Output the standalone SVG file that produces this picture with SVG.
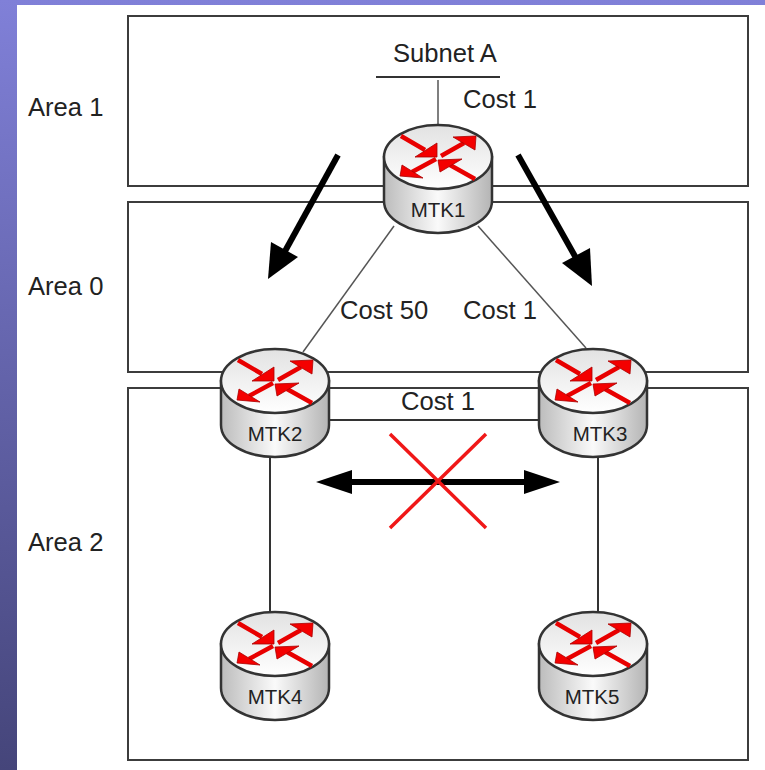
<svg xmlns="http://www.w3.org/2000/svg" xmlns:xlink="http://www.w3.org/1999/xlink" width="765" height="770" viewBox="0 0 765 770">
<style>
text{font-family:"Liberation Sans",Arial,sans-serif;fill:#222}
.lbl{font-size:25.6px}
.rl{font-size:20.5px;text-anchor:middle}
.area{fill:none;stroke:#3c3c3c;stroke-width:2}
.thin{stroke:#555;stroke-width:1.5;fill:none}
.dk{stroke:#333;stroke-width:2;fill:none}
.big{stroke:#000;stroke-width:6;fill:none}
.x{stroke:#f01818;stroke-width:3.5;fill:none}
.rs{stroke:#e80000;stroke-width:4.5;fill:none}
.rh{fill:#f40000;stroke:#a00;stroke-width:.8}
.bh{fill:#000}
</style>
<defs>
<linearGradient id="bg" x1="0" y1="0" x2="0" y2="1"><stop offset="0" stop-color="#8080d8"/><stop offset="1" stop-color="#45457a"/></linearGradient>
<linearGradient id="side" x1="0" y1="0" x2="1" y2="0"><stop offset="0" stop-color="#bcbcbc"/><stop offset="0.5" stop-color="#fafafa"/><stop offset="1" stop-color="#b4b4b4"/></linearGradient>
<linearGradient id="top" x1="0" y1="0" x2="0" y2="1"><stop offset="0" stop-color="#e2e2e2"/><stop offset="1" stop-color="#ffffff"/></linearGradient>
<g id="router">
<path d="M-54 0V44A54 32 0 0 0 54 44V0Z" fill="url(#side)" stroke="#333" stroke-width="2.5"/>
<ellipse cx="0" cy="0" rx="54" ry="32" fill="url(#top)" stroke="#333" stroke-width="2.5"/>
<path class="rs" d="M-37 -21L-13 -7M3 -1L26 -14M-2 2L-26 15M37 22L12 8"/>
<path class="rh" d="M-1 -14L-1 0L-23 0Z"/>
<path class="rh" d="M38 -21L37 -7L15 -20Z"/>
<path class="rh" d="M-38 19L-36 8L-15 21Z"/>
<path class="rh" d="M0 3L24 2L2 15Z"/>
</g>
</defs>
<rect width="765" height="770" fill="url(#bg)"/>
<rect x="17" y="5" width="748" height="765" fill="#fff"/>
<g id="areas">
<rect class="area" x="128" y="16" width="620" height="170"/>
<rect class="area" x="128" y="202" width="620" height="170"/>
<rect class="area" x="128" y="388" width="620" height="372"/>
</g>
<g id="connectors">
<path class="dk" d="M376 77H500"/>
<path class="thin" d="M438 80V126"/>
<path class="thin" d="M394 226L303 352"/>
<path class="thin" d="M478 226L586 348"/>
<path class="dk" d="M330 420H540"/>
<path class="dk" d="M270 456V612"/>
<path class="dk" d="M598 456V612"/>
<path class="big" d="M338 155L284 253"/>
<polygon class="bh" points="268,279 271,242 298,257"/>
<path class="big" d="M518 155L576 258"/>
<polygon class="bh" points="592,286 562,263 590,248"/>
<path class="big" d="M340 482H535"/>
<polygon class="bh" points="316,482 352,470 352,494"/>
<polygon class="bh" points="560,482 524,470 524,494"/>
<path class="x" d="M390 434L486 528M486 434L390 528"/>
</g>
<g id="MTK1"><use href="#router" xlink:href="#router" x="438" y="157"/><text class="rl" x="438" y="217">MTK1</text></g>
<g id="MTK2"><use href="#router" xlink:href="#router" x="275" y="381"/><text class="rl" x="275" y="441">MTK2</text></g>
<g id="MTK3"><use href="#router" xlink:href="#router" x="593" y="381"/><text class="rl" x="600" y="441">MTK3</text></g>
<g id="MTK4"><use href="#router" xlink:href="#router" x="275" y="644"/><text class="rl" x="275" y="704">MTK4</text></g>
<g id="MTK5"><use href="#router" xlink:href="#router" x="593" y="644"/><text class="rl" x="592" y="704">MTK5</text></g>
<g id="labels">
<text class="lbl" x="28" y="116">Area 1</text>
<text class="lbl" x="28" y="295">Area 0</text>
<text class="lbl" x="28" y="551">Area 2</text>
<text class="lbl" x="393" y="62">Subnet A</text>
<text class="lbl" x="463" y="108">Cost 1</text>
<text class="lbl" x="340" y="319">Cost 50</text>
<text class="lbl" x="463" y="319">Cost 1</text>
<text class="lbl" x="401" y="410">Cost 1</text>
</g>
</svg>
